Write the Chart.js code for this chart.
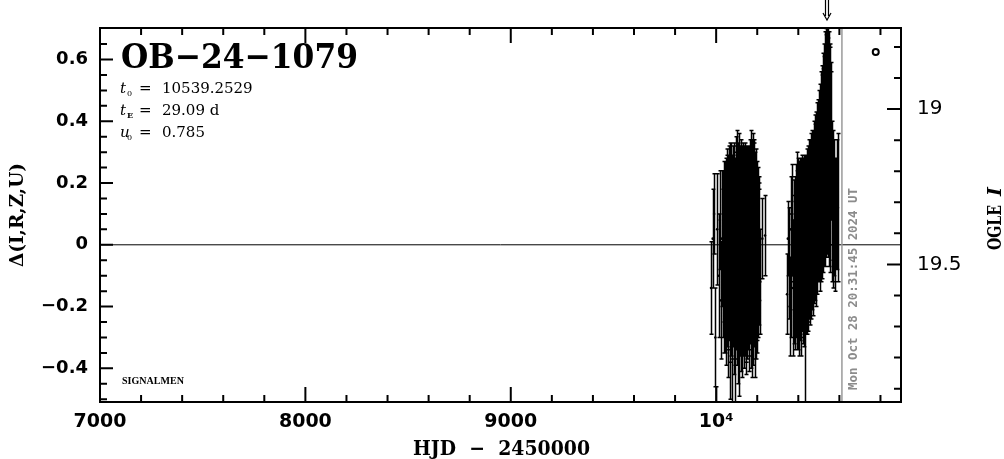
<!DOCTYPE html>
<html>
<head>
<meta charset="utf-8">
<script src="https://cdn.jsdelivr.net/npm/chart.js@4.4.1/dist/chart.umd.min.js"></script>
<style>
  html, body { margin: 0; padding: 0; background: #fff; }
  canvas { display: block; }
</style>
</head>
<body>
<canvas id="lc" width="1004" height="459"></canvas>
<script>
// OGLE EWS light curve, OB-24-1079
const eventName = "OB\u221224\u22121079";
const t0 = 10539.2529;
const tE = "29.09 d";
const u0 = "0.785";
const nowHjd = 10612.36;
const nowLabel = "Mon Oct 28 20:31:45 2024 UT";

// season 2023: HJD - 2450000, delta mag, error
const s1Hjd = [
  9975, 9983, 9990, 9996, 10000, 10005, 10012, 10018, 10024, 10028,
  10033, 10034.5, 10036, 10038, 10039.5, 10041, 10043, 10044.5, 10046,
  10048, 10049.5, 10051, 10053, 10054.5, 10056, 10058, 10059.5, 10061,
  10063, 10064.5, 10066, 10068, 10069.5, 10071, 10073, 10074.5, 10076,
  10078, 10079.5, 10081, 10083, 10084.5, 10086, 10088, 10089.5, 10091,
  10093, 10094.5, 10096, 10098, 10099.5, 10101, 10103, 10104.5, 10106,
  10108, 10109.5, 10111, 10113, 10114.5, 10116, 10118, 10119.5, 10121,
  10123, 10124.5, 10126, 10128, 10129.5, 10131, 10133, 10134.5, 10136,
  10138, 10139.5, 10141, 10143, 10144.5, 10146, 10148, 10149.5, 10151,
  10153, 10154.5, 10156, 10158, 10159.5, 10161, 10163, 10164.5, 10166,
  10168, 10169.5, 10171, 10173, 10174.5, 10176, 10178, 10179.5, 10181,
  10183, 10184.5, 10186, 10188, 10189.5, 10191, 10193, 10194.5, 10196,
  10198, 10199.5, 10201, 10203, 10204.5, 10206, 10208, 10209.5, 10211,
  10215, 10225, 10238
];
const s1Mag = [
  -0.14, 0.02, 0.10, -0.30, -0.62, 0.05, -0.10, 0.08, -0.18, 0.02,
  0.02, -0.06, 0.05, -0.10, 0.01, -0.03, 0.07, -0.08, 0.00, 0.04,
  -0.12, 0.06, -0.02, 0.09, -0.05, 0.03, -0.15, 0.08, -0.01, 0.05,
  -0.09, 0.02, -0.20, 0.07, -0.04, 0.10, -0.07, 0.01, -0.18, 0.06,
  -0.03, 0.04, -0.11, 0.08, -0.06, 0.00, -0.22, 0.05, -0.02, 0.09,
  -0.08, 0.11, -0.04, 0.03, -0.14, 0.06, -0.01, 0.02, -0.19, 0.07,
  -0.05, 0.04, -0.09, 0.10, -0.03, 0.01, -0.12, 0.05, -0.06, 0.08,
  -0.02, 0.03, -0.10, 0.06, -0.04, 0.09, -0.13, 0.02, -0.07, 0.05,
  0.00, -0.08, 0.07, -0.03, 0.04, -0.11, 0.06, -0.05, 0.10, -0.02,
  0.03, -0.09, 0.12, -0.04, 0.01, -0.15, 0.07, -0.06, 0.02, -0.10,
  0.05, -0.03, 0.08, -0.12, 0.01, -0.07, 0.04, -0.05, 0.06, -0.02,
  -0.09, 0.03, 0.00, -0.06, 0.04, -0.04, 0.02, 0.01,
  -0.12, 0.02, 0.03
];
const s1Err = [
  0.15, 0.16, 0.13, 0.16, 0.16, 0.18, 0.20, 0.16, 0.19, 0.22,
  0.22, 0.24, 0.19, 0.25, 0.26, 0.23, 0.20, 0.27, 0.28, 0.24,
  0.27, 0.25, 0.31, 0.22, 0.29, 0.26, 0.28, 0.24, 0.30, 0.27,
  0.29, 0.31, 0.30, 0.25, 0.32, 0.23, 0.30, 0.28, 0.33, 0.26,
  0.30, 0.29, 0.31, 0.24, 0.33, 0.28, 0.30, 0.27, 0.32, 0.26,
  0.31, 0.26, 0.33, 0.29, 0.31, 0.27, 0.30, 0.34, 0.30, 0.25,
  0.31, 0.28, 0.32, 0.24, 0.30, 0.29, 0.31, 0.27, 0.30, 0.25,
  0.31, 0.28, 0.30, 0.26, 0.32, 0.24, 0.29, 0.30, 0.31, 0.27,
  0.30, 0.29, 0.25, 0.31, 0.28, 0.30, 0.26, 0.31, 0.24, 0.30,
  0.29, 0.31, 0.25, 0.30, 0.33, 0.28, 0.27, 0.31, 0.34, 0.29,
  0.28, 0.30, 0.26, 0.31, 0.29, 0.30, 0.27, 0.32, 0.25, 0.29,
  0.26, 0.24, 0.25, 0.24, 0.21, 0.22, 0.20, 0.19,
  0.17, 0.13, 0.13
];

// season 2024
const s2Hjd = [
  10345, 10349, 10353, 10358, 10362, 10366, 10370, 10374, 10378, 10381,
  10384, 10385.5, 10387, 10389, 10390.5, 10392, 10394, 10395.5, 10397,
  10399, 10400.5, 10402, 10404, 10405.5, 10407, 10409, 10410.5, 10412,
  10414, 10415.5, 10417, 10419, 10420.5, 10422, 10424, 10425.5, 10427,
  10429, 10430.5, 10432, 10434, 10435.5, 10437, 10439, 10440.5, 10442,
  10444, 10445.5, 10447, 10449, 10450.5, 10452, 10454, 10455.5, 10457,
  10459, 10460.5, 10462, 10464, 10465.5, 10467, 10469, 10470.5, 10472,
  10474, 10475.5, 10477, 10479, 10480.5, 10482, 10484, 10485.5, 10487,
  10489, 10490.5, 10492, 10494, 10495.5, 10497, 10499, 10500.5, 10502,
  10504, 10505.5, 10507, 10509, 10510.5, 10512, 10514, 10515.5, 10517,
  10519, 10520.5, 10522, 10524, 10525.5, 10527, 10529, 10530.5, 10532,
  10534, 10535.5, 10537, 10539, 10540.5, 10542, 10544, 10545.5, 10547,
  10549, 10550.5, 10552, 10554, 10555.5, 10557, 10559,
  10562, 10565, 10568, 10571, 10574, 10577, 10580, 10584, 10588, 10593
];
const s2Mag = [
  -0.16, 0.02, -0.06, -0.20, 0.05, -0.10, 0.08, -0.14, 0.00, -0.08,
  0.02, -0.10, 0.08, -0.05, 0.04, -0.12, 0.06, -0.03, 0.01,
  -0.08, 0.07, -0.02, 0.03, -0.11, 0.05, -0.04, 0.08, -0.14,
  0.02, -0.06, 0.06, -0.01, 0.09, -0.07, 0.04, -0.03, 0.07,
  -0.09, 0.03, -0.26, 0.05, -0.02, 0.08, 0.00, 0.10, -0.05,
  0.06, 0.01, 0.11, -0.03, 0.08, 0.03, 0.12, -0.01, 0.07,
  0.13, 0.02, 0.09, 0.14, 0.04, 0.10, 0.16, 0.03, 0.12,
  0.18, 0.06, 0.13, 0.20, 0.08, 0.15, 0.22, 0.05, 0.17,
  0.24, 0.10, 0.19, 0.26, 0.12, 0.21, 0.28, 0.14, 0.23,
  0.31, 0.10, 0.25, 0.34, 0.12, 0.28, 0.37, 0.14, 0.31,
  0.40, 0.15, 0.34, 0.44, 0.17, 0.38, 0.47, 0.18, 0.41,
  0.49, 0.20, 0.45, 0.51, 0.22, 0.46, 0.50, 0.20, 0.44,
  0.47, 0.18, 0.41, 0.43, 0.15, 0.36, 0.32,
  0.20, 0.10, 0.16, 0.05, 0.12, 0.08, 0.02, 0.10, 0.13, 0.12
];
const s2Err = [
  0.13, 0.12, 0.18, 0.16, 0.17, 0.20, 0.18, 0.22, 0.21, 0.24,
  0.20, 0.24, 0.18, 0.25, 0.22, 0.22, 0.24, 0.27, 0.23,
  0.26, 0.21, 0.25, 0.24, 0.25, 0.22, 0.27, 0.20, 0.22,
  0.26, 0.24, 0.23, 0.27, 0.19, 0.25, 0.24, 0.26, 0.22,
  0.24, 0.25, 0.25, 0.24, 0.27, 0.21, 0.26, 0.21, 0.24,
  0.25, 0.26, 0.21, 0.25, 0.24, 0.27, 0.22, 0.25, 0.24,
  0.21, 0.26, 0.24, 0.22, 0.25, 0.24, 0.21, 0.26, 0.25,
  0.22, 0.25, 0.24, 0.22, 0.26, 0.24, 0.21, 0.25, 0.25,
  0.22, 0.26, 0.24, 0.21, 0.24, 0.25, 0.22, 0.26, 0.24,
  0.21, 0.25, 0.25, 0.22, 0.24, 0.24, 0.21, 0.25, 0.24,
  0.22, 0.24, 0.23, 0.21, 0.24, 0.23, 0.22, 0.25, 0.24,
  0.21, 0.24, 0.23, 0.22, 0.25, 0.23, 0.21, 0.24, 0.23,
  0.22, 0.25, 0.23, 0.22, 0.24, 0.23, 0.24,
  0.20, 0.22, 0.21, 0.19, 0.22, 0.20, 0.17, 0.18, 0.21, 0.24
];

// the lone open circle at upper right
const openHjd = [10777];
const openMag = [0.624];

// axes
const xRange = [7000, 10900];
const dRange = [-0.509, 0.702];
const iRange = [18.739, 19.943];
const xMajor = [7000, 8000, 9000, 10000];
const xMinor = [7200, 7400, 7600, 7800, 8200, 8400, 8600, 8800, 9200, 9400,
                9600, 9800, 10200, 10400, 10600, 10800];
const dMajor = [-0.4, -0.2, 0, 0.2, 0.4, 0.6];
const dMinor = [-0.5, -0.45, -0.35, -0.3, -0.25, -0.15, -0.1, -0.05, 0.05, 0.1,
                0.15, 0.25, 0.3, 0.35, 0.45, 0.5, 0.55, 0.65];
const iMajor = [19, 19.5];
const iMinor = [18.8, 18.9, 19.1, 19.2, 19.3, 19.4, 19.6, 19.7, 19.8, 19.9];

const seasons = [[s1Hjd, s1Mag, s1Err], [s2Hjd, s2Mag, s2Err]];

function fitText(ctx, text, x, y, w, align) {
  const m = ctx.measureText(text).width;
  ctx.save();
  ctx.translate(x, y);
  ctx.scale(w / m, 1);
  ctx.textAlign = align;
  ctx.fillText(text, 0, 0);
  ctx.restore();
}

const lcPlugin = {
  id: "lc",
  beforeDatasetsDraw(chart) {
    const {ctx, chartArea: a, scales} = chart;
    const y0 = scales.y.getPixelForValue(0);
    ctx.save();
    ctx.strokeStyle = "#000";
    ctx.lineWidth = 1;
    ctx.beginPath();
    ctx.moveTo(a.left, y0); ctx.lineTo(a.right, y0);
    ctx.stroke();
    ctx.restore();
  },
  afterDatasetsDraw(chart) {
    const {ctx, chartArea: a, scales} = chart;
    const x = scales.x, y = scales.y;
    ctx.save();
    ctx.beginPath();
    ctx.rect(a.left, a.top, a.right - a.left, a.bottom - a.top);
    ctx.clip();
    ctx.strokeStyle = "#000";
    ctx.lineWidth = 1.5;
    ctx.beginPath();
    seasons.forEach(([h, m, e]) => {
      for (let i = 0; i < h.length; i++) {
        const px = Math.round(x.getPixelForValue(h[i])) + 0.5;
        const top = y.getPixelForValue(m[i] + e[i]);
        const bot = y.getPixelForValue(m[i] - e[i]);
        ctx.moveTo(px, top); ctx.lineTo(px, bot);
        ctx.moveTo(px - 2, top); ctx.lineTo(px + 2, top);
        ctx.moveTo(px - 2, bot); ctx.lineTo(px + 2, bot);
      }
    });
    ctx.stroke();

    // today line
    const nx = x.getPixelForValue(nowHjd);
    ctx.strokeStyle = "#9a9a9a";
    ctx.lineWidth = 1.5;
    ctx.beginPath();
    ctx.moveTo(nx, a.top); ctx.lineTo(nx, a.bottom);
    ctx.stroke();
    ctx.restore();

    ctx.save();
    ctx.fillStyle = "#8c8c8c";
    ctx.font = "bold 13px 'DejaVu Sans Mono'";
    ctx.translate(nx + 15, a.bottom - 12);
    ctx.rotate(-Math.PI / 2);
    fitText(ctx, nowLabel, 0, 0, 202, "left");
    ctx.restore();
  },
  afterDraw(chart) {
    const {ctx, chartArea: a, scales} = chart;
    const x = scales.x, y = scales.y, y2 = scales.y2;
    ctx.save();
    ctx.strokeStyle = "#000";
    ctx.lineWidth = 2;
    ctx.strokeRect(a.left, a.top, a.right - a.left, a.bottom - a.top);

    ctx.beginPath();
    const tickX = (v, len) => {
      const p = x.getPixelForValue(v);
      ctx.moveTo(p, a.bottom); ctx.lineTo(p, a.bottom - len);
      ctx.moveTo(p, a.top); ctx.lineTo(p, a.top + len);
    };
    xMajor.forEach(v => tickX(v, 15));
    xMinor.forEach(v => tickX(v, 7));
    const tickL = (v, len) => {
      const p = y.getPixelForValue(v);
      ctx.moveTo(a.left, p); ctx.lineTo(a.left + len, p);
    };
    dMajor.forEach(v => tickL(v, 13));
    dMinor.forEach(v => tickL(v, 7));
    const tickR = (v, len) => {
      const p = y2.getPixelForValue(v);
      ctx.moveTo(a.right, p); ctx.lineTo(a.right - len, p);
    };
    iMajor.forEach(v => tickR(v, 14));
    iMinor.forEach(v => tickR(v, 7));
    ctx.stroke();

    // arrow at t0
    const ax = Math.round(x.getPixelForValue(t0));
    ctx.lineWidth = 1.2;
    ctx.beginPath();
    ctx.moveTo(ax - 1.5, 0); ctx.lineTo(ax - 1.5, 16);
    ctx.moveTo(ax + 1.5, 0); ctx.lineTo(ax + 1.5, 16);
    ctx.moveTo(ax - 4, 13); ctx.lineTo(ax, 20); ctx.lineTo(ax + 4, 13);
    ctx.stroke();

    ctx.fillStyle = "#000";
    ctx.textBaseline = "alphabetic";
    // event name
    ctx.font = "bold 34px 'DejaVu Serif'";
    fitText(ctx, eventName, 121, 68, 237, "left");

    // parameters
    const rows = [["t", "0", "10539.2529", 93], ["t", "E", tE, 115], ["u", "0", u0, 137]];
    rows.forEach(r => {
      ctx.font = "italic 15px 'DejaVu Serif'";
      ctx.fillText(r[0], 120, r[3]);
      ctx.font = (r[1] === "E" ? "bold " : "") + "8px 'DejaVu Serif'";
      ctx.fillText(r[1], 127, r[3] + 3);
      ctx.font = "15px 'DejaVu Serif'";
      ctx.fillText("=", 139, r[3]);
      ctx.fillText(r[2], 162, r[3]);
    });

    ctx.font = "bold 10px 'Liberation Serif'";
    fitText(ctx, "SIGNALMEN", 122, 384, 62, "left");

    // axis titles
    ctx.font = "bold 20px 'DejaVu Serif'";
    fitText(ctx, "HJD  \u2212  2450000", 501.5, 455, 177, "center");

    ctx.save();
    ctx.font = "bold 18px 'DejaVu Serif'";
    ctx.translate(23, 215);
    ctx.rotate(-Math.PI / 2);
    fitText(ctx, "\u0394(I,R,Z,U)", 0, 0, 104, "center");
    ctx.restore();

    ctx.save();
    ctx.translate(1001, 250);
    ctx.rotate(-Math.PI / 2);
    ctx.font = "bold 19px 'DejaVu Serif'";
    fitText(ctx, "OGLE", 0, 0, 45, "left");
    ctx.font = "italic bold 19px 'DejaVu Serif'";
    ctx.textAlign = "left";
    ctx.fillText("I", 54, 0);
    ctx.restore();

    ctx.restore();
  }
};

const pts = (h, m) => h.map((v, i) => ({x: v, y: m[i]}));

new Chart(document.getElementById("lc"), {
  type: "scatter",
  data: {
    datasets: [{
      data: pts(s1Hjd, s1Mag),
      pointRadius: 1.3,
      pointBackgroundColor: "#000",
      pointBorderWidth: 0
    }, {
      data: pts(s2Hjd, s2Mag),
      pointRadius: 1.3,
      pointBackgroundColor: "#000",
      pointBorderWidth: 0
    }, {
      data: pts(openHjd, openMag),
      pointRadius: 3,
      pointBackgroundColor: "#fff",
      pointBorderColor: "#000",
      pointBorderWidth: 2
    }]
  },
  options: {
    responsive: false,
    animation: false,
    events: [],
    layout: {padding: {top: 25}},
    plugins: {legend: {display: false}, tooltip: {enabled: false}},
    scales: {
      x: {
        type: "linear", position: "bottom",
        min: xRange[0], max: xRange[1],
        grid: {display: false, drawTicks: false},
        border: {display: false},
        afterBuildTicks: s => { s.ticks = xMajor.map(v => ({value: v})); },
        afterFit: s => { s.height = 57; },
        ticks: {
          color: "#000", padding: 9, maxRotation: 0, autoSkip: false,
          font: {family: "DejaVu Sans", weight: "bold", size: 19},
          callback: v => v === 10000 ? "10\u2074" : String(v)
        }
      },
      y: {
        position: "left",
        min: dRange[0], max: dRange[1],
        grid: {display: false, drawTicks: false},
        border: {display: false},
        afterBuildTicks: s => { s.ticks = dMajor.map(v => ({value: v})); },
        afterFit: s => { s.width = 100; },
        ticks: {
          color: "#000", padding: 12,
          font: {family: "DejaVu Sans", weight: "bold", size: 18},
          callback: v => v === 0 ? "0" : (v < 0 ? "\u2212" : "") + Math.abs(v).toFixed(1)
        }
      },
      y2: {
        position: "right",
        min: iRange[0], max: iRange[1], reverse: true,
        grid: {display: false, drawTicks: false},
        border: {display: false},
        afterBuildTicks: s => { s.ticks = iMajor.map(v => ({value: v})); },
        afterFit: s => { s.width = 103; },
        ticks: {
          color: "#000", padding: 16,
          font: {family: "DejaVu Sans", size: 20},
          callback: v => String(v)
        }
      }
    }
  },
  plugins: [lcPlugin]
});
</script>
</body>
</html>
